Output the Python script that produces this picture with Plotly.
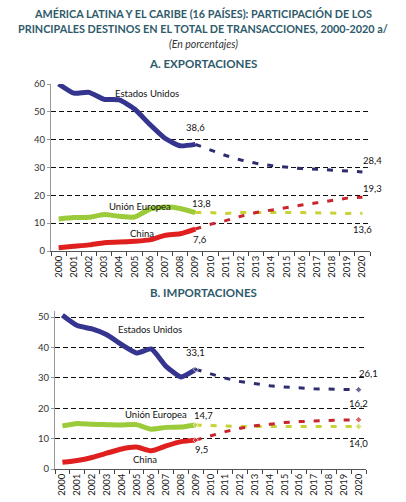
import plotly.graph_objects as go

# Years on the category axis
years = [str(y) for y in range(2000, 2021)]
hist_years = years[:10]          # 2000-2009 (observed)
proj_years = years[9:]           # 2009-2020 (projection)

# A. Exportaciones (%)
exp_us_hist = [60.0, 56.7, 57.0, 54.5, 54.3, 51.0, 45.5, 40.5, 37.8, 38.3]
exp_us_proj = [38.3, 36.2, 34.3, 32.7, 31.5, 30.7, 30.1, 29.6, 29.4, 29.1, 28.9, 28.4]
exp_eu_hist = [11.5, 12.0, 12.1, 13.1, 12.5, 12.2, 15.0, 15.8, 15.3, 13.8]
exp_eu_proj = [13.8, 13.8, 13.5, 13.8, 13.8, 13.7, 13.8, 13.8, 13.7, 13.5, 13.5, 13.6]
exp_cn_hist = [1.2, 1.7, 2.2, 3.0, 3.2, 3.5, 4.0, 5.6, 6.2, 7.9]
exp_cn_proj = [7.9, 9.6, 10.9, 12.5, 13.8, 14.7, 15.8, 16.5, 17.3, 18.1, 19.0, 19.3]

# B. Importaciones (%)
imp_us_hist = [50.6, 47.2, 46.1, 44.2, 40.9, 38.2, 39.5, 33.8, 30.3, 32.8]
imp_us_proj = [32.8, 31.4, 29.9, 28.8, 28.0, 27.4, 27.0, 26.6, 26.4, 26.3, 26.3, 26.1]
imp_eu_hist = [14.2, 15.0, 14.7, 14.6, 14.5, 14.6, 13.1, 13.7, 13.8, 14.5]
imp_eu_proj = [14.5, 14.3, 14.1, 14.0, 14.0, 14.0, 14.0, 14.0, 14.0, 14.0, 14.0, 14.0]
imp_cn_hist = [2.2, 2.8, 3.8, 5.2, 6.6, 7.2, 6.0, 7.6, 9.0, 9.5]
imp_cn_proj = [9.5, 11.0, 12.3, 13.4, 14.2, 14.7, 15.3, 15.6, 15.9, 16.0, 16.1, 16.2]

US, EU, CN = "#35348f", "#9bcb3b", "#e0201f"
US_D, EU_D, CN_D = "#2e2e6e", "#c8d236", "#c8262c"
FONT = "Lato"

fig = go.Figure()

def add_panel(xa, ya, series, end_markers):
    for hist, proj, col, dcol in series:
        fig.add_trace(go.Scatter(x=hist_years, y=hist, mode="lines", xaxis=xa, yaxis=ya,
                                 line=dict(color=col, width=5, shape="spline", smoothing=0.5),
                                 showlegend=False, hoverinfo="skip"))
        sizes = [0] * len(proj)
        if end_markers:
            sizes[0] = 4
            sizes[-1] = 5
        fig.add_trace(go.Scatter(x=proj_years, y=proj, mode="lines+markers", xaxis=xa, yaxis=ya,
                                 line=dict(color=dcol, width=3, dash="6px,9px"),
                                 marker=dict(size=sizes, color=dcol, symbol="diamond"),
                                 showlegend=False, hoverinfo="skip"))

add_panel("x", "y", [(exp_us_hist, exp_us_proj, US, US_D),
                     (exp_eu_hist, exp_eu_proj, EU, EU_D),
                     (exp_cn_hist, exp_cn_proj, CN, CN_D)], False)
add_panel("x2", "y2", [(imp_us_hist, imp_us_proj, US, US_D),
                       (imp_eu_hist, imp_eu_proj, EU, EU_D),
                       (imp_cn_hist, imp_cn_proj, CN, CN_D)], True)

xcommon = dict(type="category", range=[-0.5, 20.5], tickson="boundaries", ticks="outside",
               ticklen=4, tickcolor="#444", tickangle=-90, showline=True, linecolor="#555",
               linewidth=1, showgrid=False, tickfont=dict(family=FONT, size=9.5, color="#222"),
               automargin=False, fixedrange=True)
ycommon = dict(showline=True, linecolor="#999", linewidth=1, ticks="outside", ticklen=3,
               tickcolor="#999", showgrid=True, gridcolor="#111", griddash="5px,3px", gridwidth=1,
               zeroline=False, tickfont=dict(family=FONT, size=9.5, color="#333"),
               automargin=False, fixedrange=True)

fig.update_layout(
    width=406, height=502,
    margin=dict(l=0, r=0, t=0, b=0, autoexpand=False),
    paper_bgcolor="white", plot_bgcolor="white",
    xaxis=dict(domain=[51 / 406, 370 / 406], anchor="y", **xcommon),
    yaxis=dict(domain=[1 - 251 / 502, 1 - 84 / 502], anchor="x", range=[0, 60], dtick=10, **ycommon),
    xaxis2=dict(domain=[55 / 406, 366 / 406], anchor="y2", **xcommon),
    yaxis2=dict(domain=[1 - 469 / 502, 1 - 311 / 502], anchor="x2", range=[0, 52], dtick=10, **ycommon),
)

TITLE = "#2e5a6b"
def ptext(txt, x, y, size, color, bold=False, italic=False):
    if bold:
        txt = "<b>" + txt + "</b>"
    if italic:
        txt = "<i>" + txt + "</i>"
    fig.add_annotation(text=txt, x=x / 406, y=1 - y / 502, xref="paper", yref="paper",
                       showarrow=False, font=dict(family=FONT, size=size, color=color),
                       xanchor="center", yanchor="middle")

ptext("AMÉRICA LATINA Y EL CARIBE (16 PAÍSES): PARTICIPACIÓN DE LOS", 203, 14, 10.8, TITLE, bold=True)
ptext("PRINCIPALES DESTINOS EN EL TOTAL DE TRANSACCIONES, 2000-2020 a/", 203, 29, 10.8, TITLE, bold=True)
ptext("(En porcentajes)", 203, 44, 10.5, "#333", italic=True)
ptext("A. EXPORTACIONES", 203, 63, 11.5, TITLE, bold=True)
ptext("B. IMPORTACIONES", 203, 292, 11.5, TITLE, bold=True)

# series labels
for txt, x, y in [("Estados Unidos", 147, 93), ("38,6", 195, 127), ("Unión Europea", 140, 206),
                  ("13,8", 201, 203), ("China", 142, 233), ("7,6", 200, 239),
                  ("28,4", 372, 161), ("19,3", 372, 188), ("13,6", 362, 229),
                  ("Estados Unidos", 150, 329), ("33,1", 195, 352), ("Unión Europea", 156, 414),
                  ("14,7", 203, 415), ("China", 145, 459), ("9,5", 201, 449),
                  ("26,1", 368, 373), ("16,2", 358, 403), ("14,0", 358, 443)]:
    ptext(txt, x, y, 9.5, "#111")

# the page body has a default 8px margin; drop it so the figure fills the window
fig.write_html("out.html", config={"displayModeBar": False},
               post_script="document.body.style.margin='0';")
